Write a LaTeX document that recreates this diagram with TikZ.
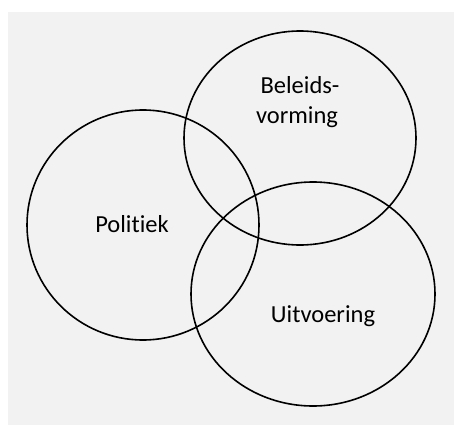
\documentclass[tikz,border=0pt]{standalone}
\usepackage{fontspec}
\setmainfont[Ligatures={NoCommon}]{Carlito}
\definecolor{bggray}{HTML}{F2F2F2}
\begin{document}
\begin{tikzpicture}[x=1pt,y=-1pt,
  ring/.style={draw=black,line width=1.6pt},
  lbl/.style={inner sep=0pt,anchor=base,font=\fontsize{24.5}{29}\selectfont}]
\useasboundingbox (0,0) rectangle (454,425);
\fill[white] (0,0) rectangle (454,425);
\fill[bggray] (8,12) rectangle (454,425);
\draw[ring] (300,138) ellipse [x radius=116,y radius=107];
\draw[ring] (143,225) ellipse [x radius=116,y radius=115];
\draw[ring] (313,294) ellipse [x radius=122,y radius=112];
\node[lbl] (b1) at (300,94) {Beleids-};
\node[lbl] (b2) at (297,123) {vorming};
\node[lbl] (p) at (132,232) {Politiek};
\node[lbl] (u) at (323,322) {Uitvoering};
\end{tikzpicture}
\end{document}
